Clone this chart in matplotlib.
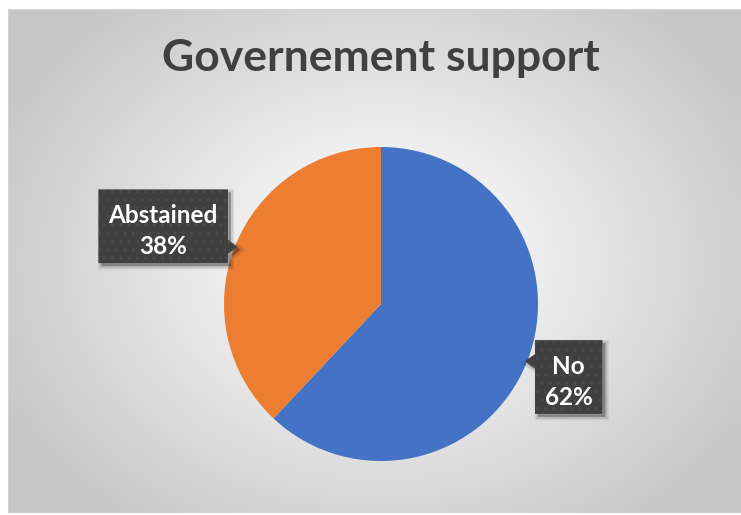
import numpy as np
import matplotlib
matplotlib.use("Agg")
import matplotlib.pyplot as plt
from matplotlib.patches import Polygon, Rectangle
import matplotlib.transforms as mtransforms
from matplotlib.colors import LinearSegmentedColormap

# Data
labels = ["No", "Abstained"]
values = [62, 38]
colors = ["#4472C4", "#ED7D31"]
title = "Governement support"

W, H = 741, 515
fig = plt.figure(figsize=(W / 100, H / 100), dpi=100)
fig.patch.set_facecolor("white")

# Chart-area panel with radial gradient
px0, py0, px1, py1 = 8, 9, 741, 513  # pixel bounds (top-left origin)
bg = fig.add_axes([px0 / W, 1 - py1 / H, (px1 - px0) / W, (py1 - py0) / H])
bg.set_axis_off()
nx, ny = px1 - px0, py1 - py0
xx, yy = np.meshgrid(np.arange(nx) + px0, np.arange(ny) + py0)
cx, cy = 381, 260
r = np.sqrt(((xx - cx) / 430.0) ** 2 + ((yy - cy) / 340.0) ** 2)
r = np.clip(r, 0, 1)
cmap = LinearSegmentedColormap.from_list("bg", ["#f4f4f4", "#efefef", "#dadada", "#c6c6c6"])
bg.imshow(r, cmap=cmap, vmin=0, vmax=1, aspect="auto", interpolation="bilinear")
bg.add_patch(Rectangle((0, 0), 1, 1, transform=bg.transAxes, fill=False,
                       edgecolor="#d4d4d4", linewidth=1.0))

# Pie axes: centre (381, 304) px, radius 157 px
pcx, pcy, pr = 381, 304, 157
ax = fig.add_axes([(pcx - pr) / W, (H - pcy - pr) / H, 2 * pr / W, 2 * pr / H])
ax.set_axis_off()
wedges, _ = ax.pie(values, colors=colors, startangle=90, counterclock=False,
                   radius=1.0, wedgeprops=dict(linewidth=0))
ax.set_xlim(-1, 1)
ax.set_ylim(-1, 1)
ax.set_aspect("equal")

# Callout label boxes (positions in pie-axes units)
box_specs = {
    "No": dict(x0=0.981, x1=1.41, y0=-0.70, y1=-0.23, side="left"),
    "Abstained": dict(x0=-1.80, x1=-0.975, y0=0.26, y1=0.73, side="right"),
}

shadow_tf = ax.transData + mtransforms.ScaledTranslation(3 / 100, -3 / 100, fig.dpi_scale_trans)

for w, lab, val in zip(wedges, labels, values):
    mid = np.deg2rad((w.theta1 + w.theta2) / 2)
    tip = np.array([0.99 * np.cos(mid), 0.99 * np.sin(mid)])
    s = box_specs[lab]
    x0, x1, y0, y1 = s["x0"], s["x1"], s["y0"], s["y1"]
    half = 0.045
    if s["side"] == "left":
        pts = [(x0, y1), (x1, y1), (x1, y0), (x0, y0),
               (x0, tip[1] - half), (tip[0] - 0.005, tip[1]), (x0, tip[1] + half)]
    else:
        pts = [(x0, y1), (x1, y1), (x1, tip[1] + half), (tip[0] + 0.005, tip[1]),
               (x1, tip[1] - half), (x1, y0), (x0, y0)]
    # soft drop shadow
    for k, a in [(2.5, 0.06), (1.5, 0.10), (0.0, 0.16)]:
        sh = Polygon(pts, closed=True, facecolor="black", edgecolor="black",
                     linewidth=k * 2, alpha=a, transform=shadow_tf,
                     clip_on=False, zorder=4)
        ax.add_patch(sh)
    poly = Polygon(pts, closed=True, facecolor="#404040", edgecolor="#4b4b4b",
                   linewidth=0, hatch="..", clip_on=False, zorder=5)
    ax.add_patch(poly)
    ax.text((x0 + x1) / 2, (y0 + y1) / 2 - 0.03, f"{lab}\n{val}%", ha="center", va="center",
            color="white", fontsize=17.5, fontweight="bold", family="Lato",
            linespacing=1.42, zorder=6, clip_on=False)

fig.text(381 / W, 1 - 58 / H, title, ha="center", va="center", fontsize=32,
         fontweight="bold", color="#404040", family="Lato")

fig.savefig("out.png", dpi=100)
